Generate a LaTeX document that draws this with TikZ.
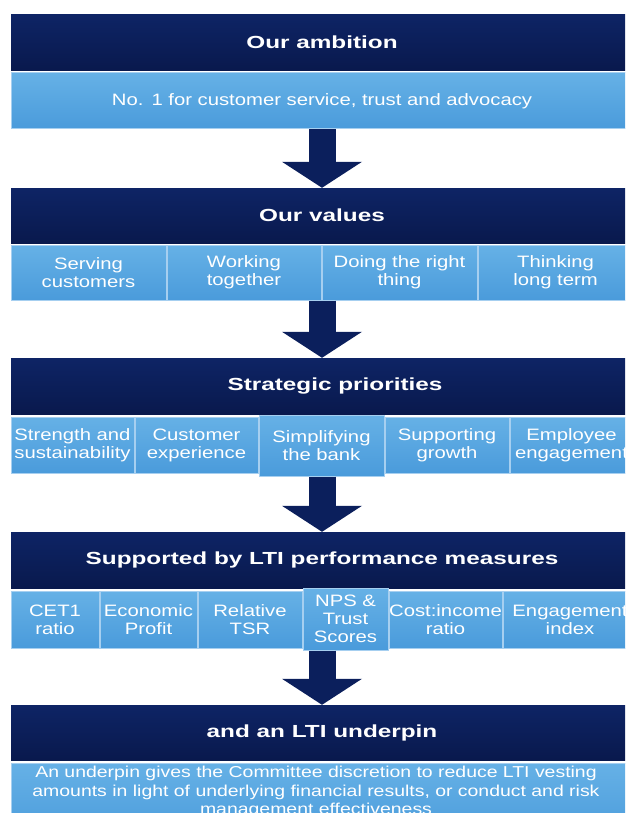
\documentclass[tikz,border=0pt]{standalone}
\usepackage{fontspec}
\setmainfont{Liberation Sans}
\newfontfamily\headfont[FakeStretch=1.39]{Liberation Sans}
\newfontfamily\labfont[FakeStretch=1.23]{Liberation Sans}
\usetikzlibrary{arrows.meta}
\definecolor{navy}{HTML}{0B1F5C}
\definecolor{navytop}{HTML}{0E2465}
\definecolor{navybot}{HTML}{09194D}
\definecolor{skytop}{HTML}{66B1E6}
\definecolor{skybot}{HTML}{4A9BDB}
\definecolor{skyline}{HTML}{A6CFF0}
\begin{document}
\begin{tikzpicture}
                    [x=1pt,y=-1pt,
                    band/.style = {top color=navytop, bottom color=navybot,
                                text=white, inner sep=0pt,
                                minimum width=622pt, minimum height=56pt,
                                font=\headfont\bfseries\fontsize{17.5}{21}\selectfont},
                    cell/.style = {top color=skytop, bottom color=skybot,
                                draw=skyline, line width=1pt, text=white,
                                inner sep=0pt, align=center, minimum height=56pt,
                                font=\labfont\fontsize{16.5}{18}\selectfont},
                    note/.style = {text=white, inner sep=0pt, align=center,
                                font=\labfont\fontsize{15.8}{18.5}\selectfont},
                    push/.style = {navy, line width=27pt,
                                -{Triangle[width=80pt,length=26pt,line width=0pt]}}]
                    \useasboundingbox (0,0) rectangle (625,813);
                    \clip (0,0) rectangle (625,813);
                    % Ambition
                    \node[band] (ambition) at (322,42.5) {Our ambition};
                    \node[cell,text width=622pt] (ambtxt) at (322,101) {No. 1 for customer service, trust and advocacy};
                    % Values
                    \node[band,minimum height=55pt] (values) at (322,215.5) {Our values};
                    \node[cell,text width=155pt,minimum height=55pt] (v1) at (88.5,272.5) {Serving\\customers};
                    \node[cell,text width=154pt,minimum height=55pt] (v2) at (244,272.5) {Working\\together};
                    \node[cell,text width=155pt,minimum height=55pt] (v3) at (399.5,272.5) {Doing the right\\thing};
                    \node[cell,text width=155pt,minimum height=55pt] (v4) at (555.5,272.5) {Thinking\\long term};
                    % Priorities
                    \node[band,minimum width=648pt] (prio) at (335,386) {Strategic priorities};
                    \node[cell,text width=123pt] (p1) at (72.5,445) {Strength and\\sustainability};
                    \node[cell,text width=123pt] (p2) at (196.5,445) {Customer\\experience};
                    \node[cell,text width=124pt] (p4) at (447,445) {Supporting\\growth};
                    \node[cell,text width=123pt] (p5) at (571.5,445) {Employee\\engagement};
                    \node[cell,text width=125pt,minimum height=61pt] (p3) at (321.5,445.5) {Simplifying\\the bank};
                    % LTI measures
                    \node[band] (lti) at (322,560) {Supported by LTI performance measures};
                    \node[cell,text width=88pt,minimum height=57pt] (m1) at (55,619.5) {CET1\\ratio};
                    \node[cell,text width=97pt,minimum height=57pt] (m2) at (148.5,619.5) {Economic\\Profit};
                    \node[cell,text width=104pt,minimum height=57pt] (m3) at (250,619.5) {Relative\\TSR};
                    \node[cell,text width=113pt,minimum height=57pt] (m5) at (445.5,619.5) {Cost:income\\ratio};
                    \node[cell,text width=134pt,minimum height=57pt] (m6) at (570,619.5) {Engagement\\index};
                    \node[cell,text width=85pt,minimum height=62pt] (m4) at (345.5,619) {NPS \&\\Trust\\Scores};
                    % Underpin
                    \node[band,minimum height=55pt] (underpin) at (322,732.5) {and an LTI underpin};
                    \node[cell,text width=622pt,minimum height=77pt] (underbox) at (322,801.5) {};
                    \node[note,anchor=north] (undertxt) at (316,766) {An underpin gives the Committee discretion to reduce LTI vesting\\amounts in light of underlying financial results, or conduct and risk\\management effectiveness};
                    % arrows
                    \draw[push] (ambtxt.south) -- (values.north);
                    \draw[push] (values |- v1.south) -- (values |- prio.north);
                    \draw[push] (lti |- p3.south) -- (lti.north);
                    \draw[push] (lti |- m4.south) -- (underpin.north);
                \end{tikzpicture}
\end{document}
